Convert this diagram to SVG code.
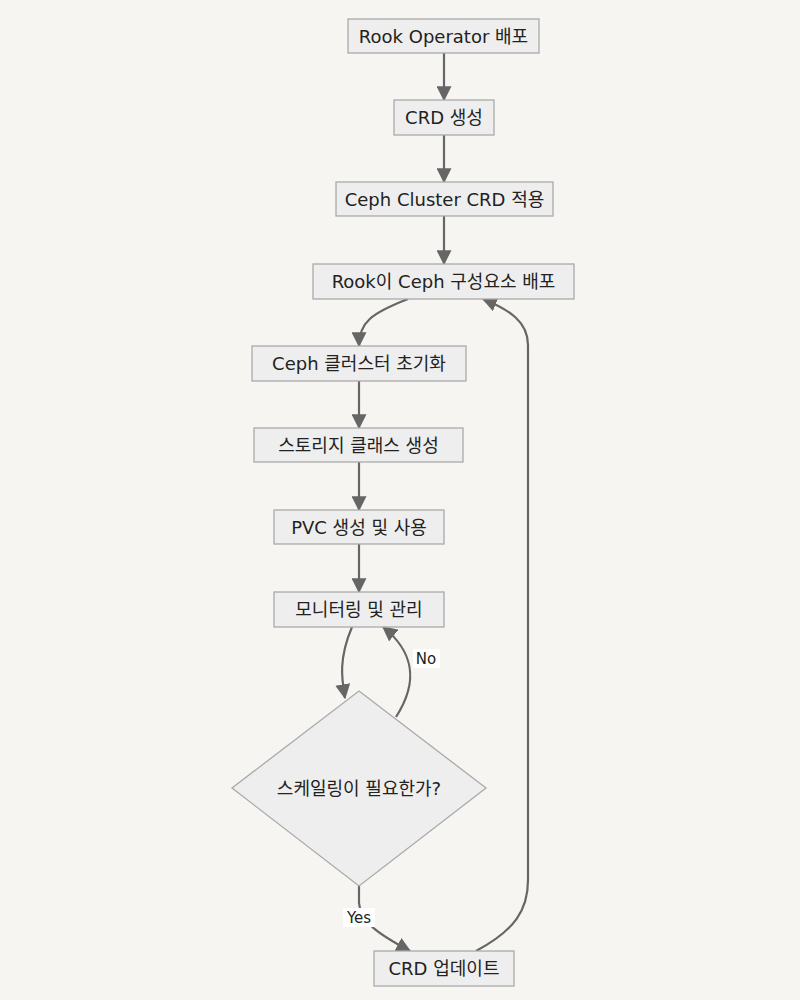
<svg xmlns="http://www.w3.org/2000/svg" width="800" height="1000" viewBox="0 0 800 1000">
<defs>
<marker id="arr" markerUnits="userSpaceOnUse" markerWidth="15" markerHeight="15" viewBox="0 0 12 12" refX="11" refY="6" orient="auto">
<path d="M0,0 L12,6 L0,12 z" fill="#666"/>
</marker>
</defs>
<style>
.node rect, .node polygon { fill:#eeeeee; stroke:#aaaaaa; stroke-width:1.3; }
.node text { font-family:"DejaVu Sans","Noto Sans CJK KR",sans-serif; font-size:18px; fill:#222; text-anchor:middle; dominant-baseline:central; }
.edge { fill:none; stroke:#666; stroke-width:2.2; marker-end:url(#arr); }
.lbl rect { fill:#ffffff; }
.lbl text { font-family:"DejaVu Sans","Noto Sans CJK KR",sans-serif; font-size:15px; fill:#222; text-anchor:middle; dominant-baseline:central; }
</style>
<rect x="0" y="0" width="800" height="1000" fill="#f6f5f1"/>
<g id="connectors">
<path class="edge" d="M444,53 L444,100"/>
<path class="edge" d="M444,135 L444,182"/>
<path class="edge" d="M444,216 L444,264"/>
<path class="edge" d="M408,299 C372,313 359,322 359,346"/>
<path class="edge" d="M359,381 L359,428"/>
<path class="edge" d="M359,462 L359,510"/>
<path class="edge" d="M359,544 L359,592"/>
<path class="edge" d="M352,627 C338,660 342,680 345,698"/>
<path class="edge" d="M396,717 C420,680 412,650 383,627"/>
<path class="edge" d="M359,886 L359,903 C360,922 380,935 410,951"/>
<path class="edge" d="M476,951 C515,930 528,910 528,880 L528,345 C528,322 510,310 483,299"/>
<g class="lbl"><rect x="413" y="649" width="27" height="19"/><text x="426" y="659">No</text></g>
<g class="lbl"><rect x="343" y="908" width="32" height="19"/><text x="359" y="918">Yes</text></g>
</g>
<g id="n1" class="node"><rect x="348" y="19" width="191" height="34"/><text x="443.5" y="36">Rook Operator 배포</text></g>
<g id="n2" class="node"><rect x="394" y="100" width="100" height="35"/><text x="444" y="117.5">CRD 생성</text></g>
<g id="n3" class="node"><rect x="336" y="182" width="217" height="34"/><text x="444.5" y="199">Ceph Cluster CRD 적용</text></g>
<g id="n4" class="node"><rect x="313" y="264" width="261" height="35"/><text x="443.5" y="281.5">Rook이 Ceph 구성요소 배포</text></g>
<g id="n5" class="node"><rect x="252" y="346" width="214" height="35"/><text x="359" y="363.5">Ceph 클러스터 초기화</text></g>
<g id="n6" class="node"><rect x="254" y="428" width="209" height="34"/><text x="358.5" y="445">스토리지 클래스 생성</text></g>
<g id="n7" class="node"><rect x="274" y="510" width="170" height="34"/><text x="359" y="527">PVC 생성 및 사용</text></g>
<g id="n8" class="node"><rect x="274" y="592" width="170" height="35"/><text x="359" y="609.5">모니터링 및 관리</text></g>
<g id="n9" class="node"><polygon points="359,691 486,788 359,886 232,788"/><text x="359" y="788">스케일링이 필요한가?</text></g>
<g id="n10" class="node"><rect x="374" y="951" width="140" height="35"/><text x="444" y="968.5">CRD 업데이트</text></g>
</svg>
